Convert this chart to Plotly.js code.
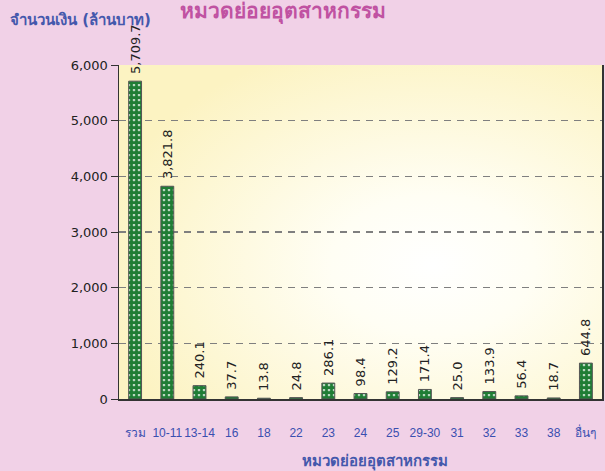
<!DOCTYPE html>
<html>
<head>
<meta charset="utf-8">
<script src="https://cdn.plot.ly/plotly-3.0.1.min.js"></script>
<style>html,body{margin:0;padding:0;background:#f1d1e7;}#chart{width:605px;height:471px;}</style>
</head>
<body>
<div id="chart"></div>
<script>
const categories = ["รวม","10-11","13-14","16","18","22","23","24","25","29-30","31","32","33","38","อื่นๆ"];
const values = [5709.7, 3821.8, 240.1, 37.7, 13.8, 24.8, 286.1, 98.4, 129.2, 171.4, 25.0, 133.9, 56.4, 18.7, 644.8];
const yTicks = [0, 1000, 2000, 3000, 4000, 5000, 6000];
const chartTitle = "หมวดย่อยอุตสาหกรรม";
const yTitle = "จำนวนเงิน (ล้านบาท)";
const xTitle = "หมวดย่อยอุตสาหกรรม";

const FONT = "Tahoma, 'DejaVu Sans', 'Noto Sans', sans-serif";
const FONT_X = "Tahoma, 'Liberation Sans', 'DejaVu Sans', sans-serif";
const gradSvg = '<svg xmlns="http://www.w3.org/2000/svg" width="483" height="334" preserveAspectRatio="none">' +
  '<defs><radialGradient id="g" cx="0.65" cy="0.6" r="0.7"><stop offset="0" stop-color="#ffffff"/><stop offset="0.3" stop-color="#fffef4"/><stop offset="1" stop-color="#fcf3c2"/></radialGradient></defs>' +
  '<rect width="483" height="334" fill="url(#g)"/></svg>';
const gradUri = 'data:image/svg+xml;charset=utf-8,' + encodeURIComponent(gradSvg);

const trace = {
  type: 'bar',
  x: categories,
  y: values,
  marker: {
    color: '#ffffff',
    line: {color: '#555555', width: 1},
    pattern: {shape: '.', fgcolor: '#1f7d35', bgcolor: '#ffffff', size: 5, solidity: 0.8, fillmode: 'replace'}
  },
  text: values.map(v => '\u00a0' + v.toLocaleString('en-US', {minimumFractionDigits: 1, maximumFractionDigits: 1})),
  textposition: 'outside',
  textangle: -90,
  constraintext: 'none',
  textfont: {family: FONT, size: 13, color: '#222222'},
  cliponaxis: false,
  hoverinfo: 'x+y'
};

const layout = {
  width: 605, height: 471,
  margin: {l: 119, r: 3, t: 65, b: 72},
  paper_bgcolor: '#f1d1e7',
  plot_bgcolor: 'rgba(0,0,0,0)',
  font: {family: FONT, color: '#222222'},
  showlegend: false,
  bargap: 0.6,
  title: {text: '<b>' + chartTitle + '</b>', x: 0.468, xanchor: 'center', y: 0.978, yanchor: 'middle',
          font: {family: FONT, size: 21, color: '#c052a2'}},
  xaxis: {
    type: 'category',
    showline: true, linecolor: '#333333', linewidth: 1.5,
    ticks: '', tickangle: 0, tickfont: {family: FONT_X, size: 12, color: '#3a4fb0'},
    ticklabelstandoff: 22,
    showgrid: false, zeroline: false
  },
  yaxis: {
    range: [0, 6000],
    tickvals: yTicks,
    tickformat: ',d',
    showline: true, linecolor: '#333333', linewidth: 1.5, mirror: true,
    ticks: 'outside', ticklen: 7, tickcolor: '#333333',
    tickfont: {family: FONT, size: 13, color: '#222222'},
    showgrid: true, gridcolor: '#7f7f7f', gridwidth: 1.5, griddash: '7px,6px',
    zeroline: false
  },
  images: [{source: gradUri, xref: 'paper', yref: 'paper', x: 0, y: 1, sizex: 1, sizey: 1,
            xanchor: 'left', yanchor: 'top', sizing: 'stretch', layer: 'below'}],
  annotations: [
    {text: '<b>' + yTitle + '</b>', xref: 'paper', yref: 'paper', x: -0.2298, y: 1.1347,
     xanchor: 'left', yanchor: 'middle', showarrow: false, font: {family: FONT, size: 15, color: '#4458ac'}},
    {text: '<b>' + xTitle + '</b>', xref: 'paper', yref: 'paper', x: 0.53, y: -0.1886,
     xanchor: 'center', yanchor: 'middle', showarrow: false, font: {family: FONT, size: 15, color: '#4458ac'}}
  ]
};

Plotly.newPlot('chart', [trace], layout, {displayModeBar: false, staticPlot: true});
</script>
</body>
</html>
